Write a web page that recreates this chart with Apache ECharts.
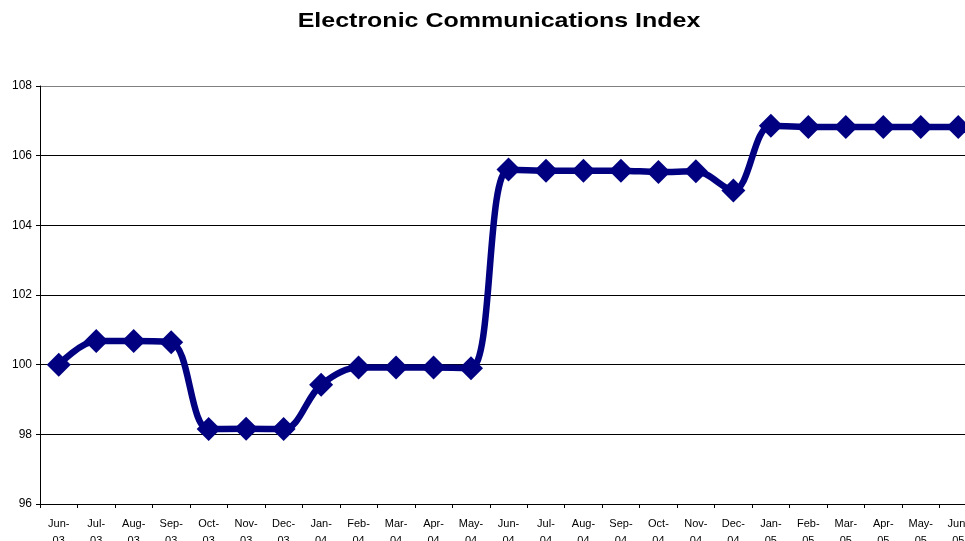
<!DOCTYPE html>
<html>
<head>
<meta charset="utf-8">
<style>
  html, body { margin: 0; padding: 0; background: #fff; }
  #chart { width: 965px; height: 541px; }
</style>
<script src="https://cdn.jsdelivr.net/npm/echarts@6/dist/echarts.min.js"></script>
</head>
<body>
<div id="chart"></div>
<script>
// Monthly categories, June 2003 to June 2005
const months = ['Jun-03','Jul-03','Aug-03','Sep-03','Oct-03','Nov-03','Dec-03',
  'Jan-04','Feb-04','Mar-04','Apr-04','May-04','Jun-04','Jul-04','Aug-04','Sep-04',
  'Oct-04','Nov-04','Dec-04','Jan-05','Feb-05','Mar-05','Apr-05','May-05','Jun-05'];

// Index values (Jun-03 = 100)
const indexValues = [100.0, 100.68, 100.68, 100.64, 98.15, 98.16, 98.15,
  99.42, 99.92, 99.92, 99.92, 99.9, 105.6, 105.57, 105.57, 105.57,
  105.53, 105.55, 105.0, 106.86, 106.82, 106.82, 106.82, 106.82, 106.82];

// Value axis range and step
const yMin = 96, yMax = 108, yStep = 2;

const chartTitle = 'Electronic Communications Index';

const chart = echarts.init(document.getElementById('chart'));
const font = 'Liberation Sans, Arial, sans-serif';

chart.setOption({
  backgroundColor: '#ffffff',
  animation: false,
  // Title drawn as a wide bold heading above the plot
  graphic: [{
    type: 'text',
    x: 499,
    y: 21,
    scaleX: 1.19,
    style: {
      text: chartTitle,
      font: 'bold 21px ' + font,
      fill: '#000',
      textAlign: 'center',
      textVerticalAlign: 'middle'
    }
  }],
  grid: { left: 40, top: 86, width: 937, bottom: 37, containLabel: false, outerBoundsMode: 'none' },
  xAxis: {
    type: 'category',
    data: months,
    boundaryGap: true,
    axisLine: { lineStyle: { color: '#000', width: 1 } },
    axisTick: { show: true, length: 4, inside: false, alignWithLabel: false, lineStyle: { color: '#000' } },
    axisLabel: {
      interval: 0,
      fontFamily: font,
      fontSize: 11,
      color: '#000',
      margin: 11,
      lineHeight: 17,
      hideOverlap: false,
      formatter: v => v.replace('-', '-\n')
    },
    splitLine: { show: false }
  },
  yAxis: {
    type: 'value',
    min: yMin,
    max: yMax,
    interval: yStep,
    axisLine: { show: true, lineStyle: { color: '#000', width: 1 } },
    axisTick: { show: true, length: 4, inside: false, lineStyle: { color: '#000' } },
    axisLabel: { fontFamily: font, fontSize: 12, color: '#000', margin: 8 },
    splitLine: {
      show: true,
      lineStyle: { color: ['#000', '#000', '#000', '#000', '#000', '#000', '#808080'], width: 1 }
    }
  },
  series: [{
    type: 'line',
    data: indexValues,
    smooth: 0.35,
    symbol: 'diamond',
    symbolSize: 24,
    showAllSymbol: true,
    lineStyle: { color: '#000080', width: 6.5 },
    itemStyle: { color: '#000080' },
    clip: false
  }]
});
</script>
</body>
</html>
